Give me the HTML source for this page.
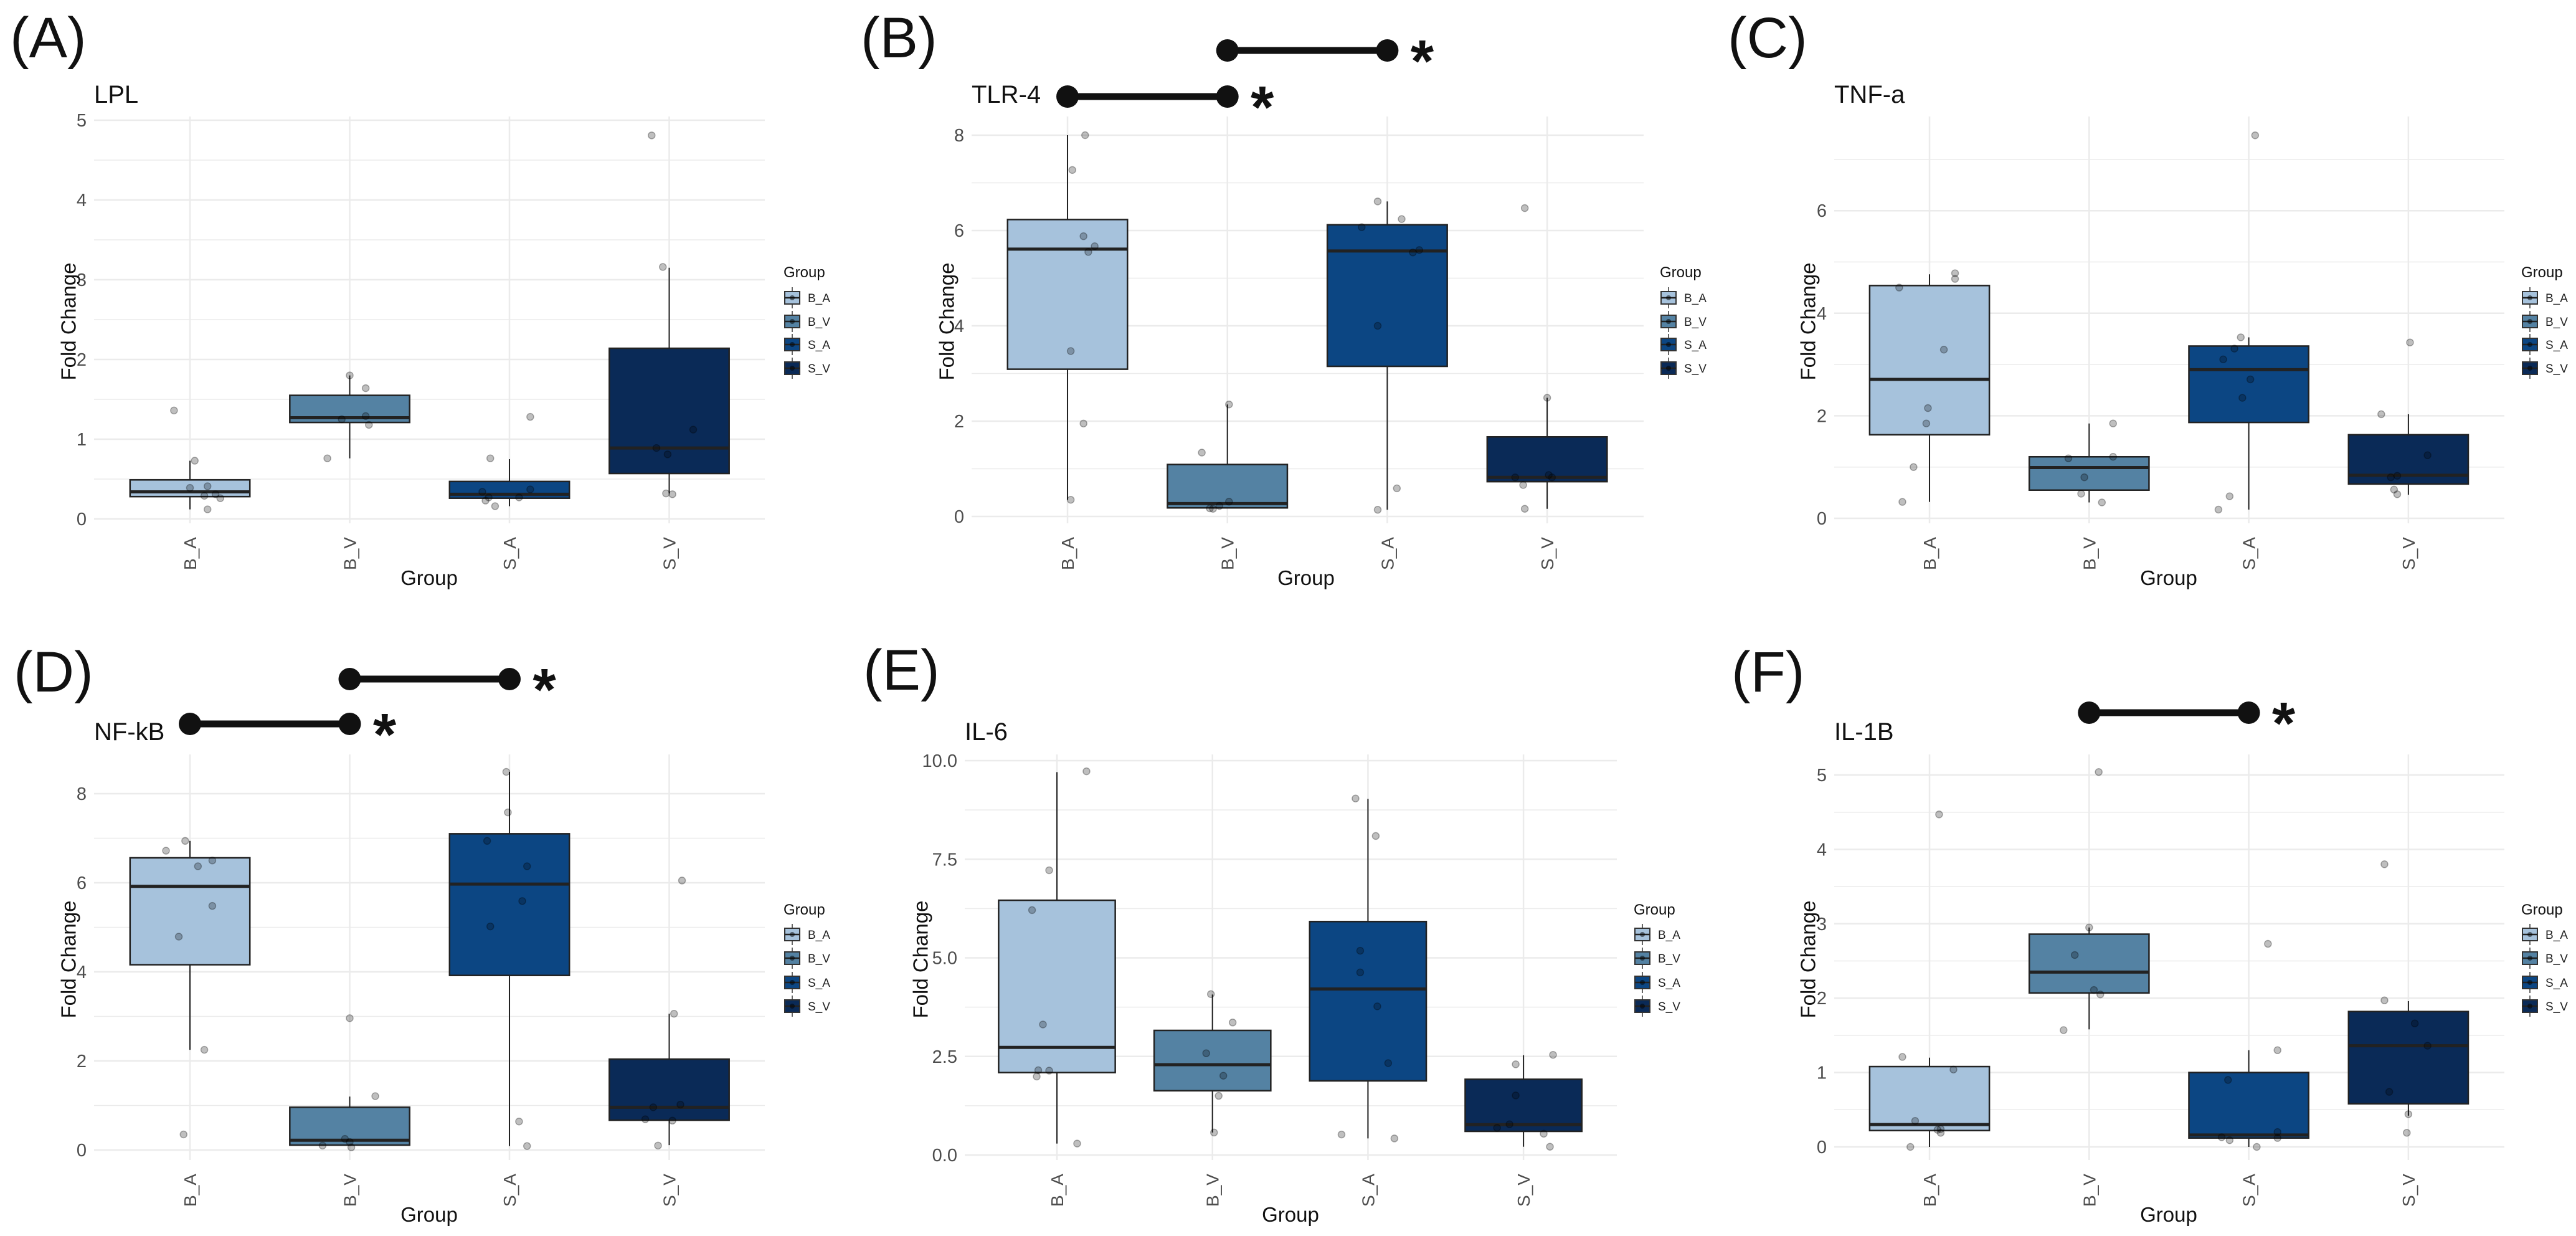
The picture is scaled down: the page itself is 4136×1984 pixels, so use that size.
<!DOCTYPE html>
<html><head><meta charset="utf-8">
<style>
html,body{margin:0;padding:0;background:#fff;}
svg{display:block;}
.narrow{font-family:"Liberation Sans Narrow","Liberation Sans",sans-serif;}
.sans{font-family:"Liberation Sans",sans-serif;}
</style></head>
<body>
<svg id="fig" width="4136" height="1984" viewBox="0 0 4136 1984" xmlns="http://www.w3.org/2000/svg"></svg>
<script>
// ---------- data ----------
const categories = ["B_A","B_V","S_A","S_V"];
const colors = ["#a6c2dc","#5482a3","#0c4683","#0a2a57"];

// box stats per group: [lowerWhisker, q1, median, q3, upperWhisker]
const lplBox = [[0.12,0.28,0.34,0.49,0.73],[0.76,1.21,1.27,1.55,1.80],[0.16,0.26,0.31,0.47,0.75],[0.32,0.57,0.89,2.14,3.15]];
const lplPoints = [[1.36,0.73,0.39,0.41,0.29,0.31,0.26,0.12],[0.76,1.80,1.64,1.25,1.29,1.18],[0.76,1.28,0.34,0.37,0.27,0.23,0.27,0.16],[4.81,3.16,0.89,0.81,1.12,0.32,0.31]];
const lplJitter = [[-0.10,0.03,0,0.11,0.09,0.16,0.19,0.11],[-0.14,0,0.10,-0.05,0.10,0.12],[-0.12,0.13,-0.17,0.13,-0.13,-0.15,0.06,-0.09],[-0.11,-0.04,-0.08,-0.01,0.15,-0.02,0.02]];

const tlrBox = [[0.35,3.09,5.61,6.23,8.0],[0.18,0.18,0.27,1.09,2.35],[0.14,3.15,5.57,6.12,6.61],[0.16,0.73,0.82,1.67,2.49]];
const tlrPoints = [[8.0,7.27,5.88,5.67,5.55,3.47,1.95,0.35],[2.35,1.34,0.31,0.22,0.17,0.16],[6.61,6.24,6.07,5.59,5.54,4.0,0.59,0.14],[6.47,2.49,0.82,0.87,0.82,0.66,0.16]];
const tlrJitter = [[0.11,0.03,0.10,0.17,0.13,0.02,0.10,0.02],[0.01,-0.16,0.01,-0.05,-0.11,-0.09],[-0.06,0.09,-0.16,0.20,0.16,-0.06,0.06,-0.06],[-0.14,0,-0.20,0.01,0.03,-0.15,-0.14]];

const tnfBox = [[0.32,1.63,2.71,4.54,4.76],[0.31,0.55,0.99,1.20,1.85],[0.17,1.87,2.90,3.36,3.53],[0.46,0.67,0.84,1.63,2.03]];
const tnfPoints = [[4.78,4.67,4.50,3.29,2.15,1.85,1.0,0.32],[1.85,1.17,1.20,0.80,0.48,0.31],[7.47,3.53,3.31,3.10,2.71,2.35,0.43,0.17],[3.43,2.03,1.23,0.83,0.80,0.56,0.47]];
const tnfJitter = [[0.16,0.16,-0.19,0.09,-0.01,-0.02,-0.10,-0.17],[0.15,-0.13,0.15,-0.03,-0.05,0.08],[0.04,-0.05,-0.09,-0.16,0.01,-0.04,-0.12,-0.19],[0.01,-0.17,0.12,-0.07,-0.11,-0.09,-0.07]];

const nfkbBox = [[2.25,4.16,5.92,6.56,6.94],[0.11,0.11,0.22,0.96,1.20],[0.09,3.92,5.97,7.10,8.49],[0.11,0.67,0.96,2.04,3.06]];
const nfkbPoints = [[6.94,6.72,6.50,6.37,5.48,4.79,2.25,0.35],[2.96,1.21,0.25,0.18,0.10,0.06],[8.49,7.58,6.94,6.37,5.59,5.02,0.64,0.09],[6.05,3.06,1.02,0.96,0.69,0.66,0.10]];
const nfkbJitter = [[-0.03,-0.15,0.14,0.05,0.14,-0.07,0.09,-0.04],[0,0.16,-0.03,0,-0.17,0.01],[-0.02,-0.01,-0.14,0.11,0.08,-0.12,0.06,0.11],[0.08,0.03,0.07,-0.10,-0.15,0.02,-0.07]];

const il6Box = [[0.29,2.09,2.73,6.46,9.71],[0.57,1.63,2.29,3.16,4.07],[0.42,1.88,4.21,5.92,9.03],[0.21,0.60,0.77,1.92,2.53]];
const il6Points = [[9.73,7.22,6.21,3.31,2.15,2.14,1.99,0.29],[4.08,3.36,2.58,2.01,1.50,0.57],[9.04,8.09,5.18,4.63,3.77,2.33,0.52,0.42],[2.54,2.30,1.51,0.78,0.69,0.54,0.21]];
const il6Jitter = [[0.19,-0.05,-0.16,-0.09,-0.12,-0.05,-0.13,0.13],[-0.01,0.13,-0.04,0.07,0.04,0.01],[-0.08,0.05,-0.05,-0.05,0.06,0.13,-0.17,0.17],[0.19,-0.05,-0.05,-0.09,-0.17,0.13,0.17]];

const il1bBox = [[0,0.22,0.30,1.08,1.20],[1.58,2.07,2.35,2.86,2.95],[0,0.12,0.16,1.00,1.30],[0.42,0.58,1.36,1.82,1.96]];
const il1bPoints = [[4.47,1.21,1.04,0.35,0.23,0.24,0.19,0.0],[5.04,2.95,2.58,2.11,2.05,1.57],[2.73,1.30,0.90,0.20,0.13,0.12,0.09,0.0],[3.80,1.97,1.66,1.36,0.74,0.44,0.19]];
const il1bJitter = [[0.06,-0.17,0.15,-0.09,0.05,0.07,0.07,-0.12],[0.06,0,-0.09,0.03,0.07,-0.16],[0.12,0.18,-0.13,0.18,-0.17,0.18,-0.12,0.05],[-0.15,-0.15,0.04,0.12,-0.12,0,-0.01]];

const lplTicks = [0,1,2,3,4,5];
const lplMinor = [0.5,1.5,2.5,3.5,4.5];
const tlrTicks = [0,2,4,6,8];
const tlrMinor = [1,3,5,7];
const tnfTicks = [0,2,4,6];
const tnfMinor = [1,3,5,7];
const nfkbTicks = [0,2,4,6,8];
const nfkbMinor = [1,3,5,7];
const il6Ticks = [0,2.5,5,7.5,10];
const il6TickLabels = ["0.0","2.5","5.0","7.5","10.0"];
const il6Minor = [1.25,3.75,6.25,8.75];
const il1bTicks = [0,1,2,3,4,5];
const il1bMinor = [0.5,1.5,2.5,3.5,4.5];

// significance comparisons: [fromGroupIndex, toGroupIndex]
const tlrSig = [[1,2],[0,1]];
const nfkbSig = [[1,2],[0,1]];
const il1bSig = [[1,2]];

// ---------- layout ----------
const NS = "http://www.w3.org/2000/svg";
const svg = document.getElementById("fig");
function mk(tag, attrs, parent, text){
  const e = document.createElementNS(NS, tag);
  for (const k in attrs) e.setAttribute(k, attrs[k]);
  if (text !== undefined) e.textContent = text;
  (parent||svg).appendChild(e);
  return e;
}

const panels = [
 {key:"a",letter:"(A)",title:"LPL",box:lplBox,pts:lplPoints,jit:lplJitter,ticks:lplTicks,minor:lplMinor,labels:null,sig:[],
  lx:16,ly:92,tx:151,ty:165,y0:833,ppu:128,xc0:305,step:256.5,pl:151,pr:1228,gt:187,gb:840,ytx:113,ytY:516,xtY:862,xgx:689,xgy:939,legX:1260,legY:445,legRows:[478,516,553,591],sigY:[]},
 {key:"b",letter:"(B)",title:"TLR-4",box:tlrBox,pts:tlrPoints,jit:tlrJitter,ticks:tlrTicks,minor:tlrMinor,labels:null,sig:tlrSig,
  lx:1382,ly:92,tx:1560,ty:165,y0:829,ppu:76.5,xc0:1714,step:256.7,pl:1560,pr:2639,gt:187,gb:840,ytx:1523,ytY:516,xtY:862,xgx:2097,xgy:939,legX:2667,legY:445,legRows:[478,516,553,591],sigY:[81,155]},
 {key:"c",letter:"(C)",title:"TNF-a",box:tnfBox,pts:tnfPoints,jit:tnfJitter,ticks:tnfTicks,minor:tnfMinor,labels:null,sig:[],
  lx:2774,ly:92,tx:2945,ty:165,y0:832,ppu:82.3,xc0:3098,step:256.3,pl:2945,pr:4021,gt:187,gb:840,ytx:2906,ytY:516,xtY:862,xgx:3482,xgy:939,legX:4050,legY:445,legRows:[478,516,553,591],sigY:[]},
 {key:"d",letter:"(D)",title:"NF-kB",box:nfkbBox,pts:nfkbPoints,jit:nfkbJitter,ticks:nfkbTicks,minor:nfkbMinor,labels:null,sig:nfkbSig,
  lx:22,ly:1110,tx:151,ty:1188,y0:1846,ppu:71.5,xc0:305,step:256.5,pl:151,pr:1228,gt:1211,gb:1862,ytx:113,ytY:1540,xtY:1884,xgx:689,xgy:1961,legX:1260,legY:1468,legRows:[1500,1538,1577,1615],sigY:[1090,1162]},
 {key:"e",letter:"(E)",title:"IL-6",box:il6Box,pts:il6Points,jit:il6Jitter,ticks:il6Ticks,minor:il6Minor,labels:il6TickLabels,sig:[],
  lx:1386,ly:1107,tx:1549,ty:1188,y0:1854,ppu:63.3,xc0:1697,step:249.7,pl:1549,pr:2596,gt:1211,gb:1862,ytx:1481,ytY:1540,xtY:1884,xgx:2072,xgy:1961,legX:2625,legY:1468,legRows:[1500,1538,1577,1615],sigY:[]},
 {key:"f",letter:"(F)",title:"IL-1B",box:il1bBox,pts:il1bPoints,jit:il1bJitter,ticks:il1bTicks,minor:il1bMinor,labels:null,sig:il1bSig,
  lx:2780,ly:1110,tx:2945,ty:1188,y0:1841,ppu:119.4,xc0:3098,step:256.3,pl:2945,pr:4021,gt:1211,gb:1862,ytx:2906,ytY:1540,xtY:1884,xgx:3482,xgy:1961,legX:4050,legY:1468,legRows:[1500,1538,1577,1615],sigY:[1144]}
];

panels.forEach(P=>{
  const g = mk("g",{});
  
  
  const Y = v => P.y0 - v*P.ppu;
  const X = i => P.xc0 + i*P.step;

  const lt = mk("text",{x:P.lx,y:P.ly,"font-size":92,fill:"#111",class:"sans"},g,P.letter);
  
  

  const tt = mk("text",{x:P.tx,y:P.ty,"font-size":40,fill:"#111",class:"narrow"},g,P.title);
  
  

  // grid
  const grid = mk("g",{stroke:"#ebebeb"},g);
  
  
  P.minor.forEach(v=>{ const y=Y(v); if(y>=P.gt && y<=P.gb) mk("line",{x1:P.pl,x2:P.pr,y1:y,y2:y,"stroke-width":1.5},grid); });
  P.ticks.forEach(v=>{ mk("line",{x1:P.pl,x2:P.pr,y1:Y(v),y2:Y(v),"stroke-width":2.5},grid); });
  categories.forEach((c,i)=>{ mk("line",{x1:X(i),x2:X(i),y1:P.gt,y2:P.gb,"stroke-width":2.5},grid); });

  // y ticks
  P.ticks.forEach((v,k)=>{
    const t = mk("text",{x:P.pl-12,y:Y(v)+10,"text-anchor":"end","font-size":29,fill:"#4d4d4d",class:"narrow"},g,P.labels?P.labels[k]:String(v));
    
    
  });
  // y title
  const yt = mk("text",{x:P.ytx,y:P.ytY,transform:`rotate(-90 ${P.ytx} ${P.ytY})`,"text-anchor":"middle","font-size":33,fill:"#111",class:"sans","dominant-baseline":"middle"},g,"Fold Change");
  
  
  // x ticks
  categories.forEach((c,i)=>{
    const x = X(i)+10, y = P.xtY;
    const t = mk("text",{x:x,y:y,transform:`rotate(-90 ${x} ${y})`,"text-anchor":"end","font-size":28,fill:"#4d4d4d",class:"sans"},g,c);
    
    
  });
  const xg = mk("text",{x:P.xgx,y:P.xgy,"text-anchor":"middle","font-size":33,fill:"#111",class:"narrow"},g,"Group");
  
  

  // boxes
  const hw = 0.375*P.step;
  P.box.forEach((b,i)=>{
    const bg = mk("g",{},g);
    
    
    const x = X(i);
    mk("line",{x1:x,x2:x,y1:Y(b[0]),y2:Y(b[1]),stroke:"#222","stroke-width":2},bg);
    mk("line",{x1:x,x2:x,y1:Y(b[3]),y2:Y(b[4]),stroke:"#222","stroke-width":2},bg);
    mk("rect",{x:x-hw,y:Y(b[3]),width:2*hw,height:Y(b[1])-Y(b[3]),fill:colors[i],stroke:"#222","stroke-width":2.5},bg);
    mk("line",{x1:x-hw,x2:x+hw,y1:Y(b[2]),y2:Y(b[2]),stroke:"#222","stroke-width":5},bg);
  });
  // points
  P.pts.forEach((arr,i)=>{
    arr.forEach((v,k)=>{
      const c = mk("circle",{cx:X(i)+P.jit[i][k]*P.step,cy:Y(v),r:5.5,fill:"#000","fill-opacity":0.25,stroke:"#000","stroke-opacity":0.3,"stroke-width":1.5},g);
      
      
    });
  });

  // significance bars
  P.sig.forEach((s,k)=>{
    const sg = mk("g",{},g);
    
    
    const y = P.sigY[k], x1 = X(s[0]), x2 = X(s[1]);
    mk("line",{x1:x1,x2:x2,y1:y,y2:y,stroke:"#111","stroke-width":11},sg);
    mk("circle",{cx:x1,cy:y,r:18,fill:"#111"},sg);
    mk("circle",{cx:x2,cy:y,r:18,fill:"#111"},sg);
    mk("text",{x:x2+56,y:y+50,"text-anchor":"middle","font-size":96,"font-weight":"bold",fill:"#111",class:"sans"},sg,"*");
  });

  // legend
  const lg = mk("g",{},g);
  
  
  mk("text",{x:P.legX-2,y:P.legY,"font-size":24,fill:"#111",class:"narrow"},lg,"Group");
  categories.forEach((c,i)=>{
    const e = mk("g",{},lg);
    
    
    const cy = P.legRows[i], cx = P.legX+12;
    mk("line",{x1:cx,x2:cx,y1:cy-17,y2:cy+17,stroke:"#333","stroke-width":1.5},e);
    mk("rect",{x:P.legX,y:cy-10,width:24,height:20,fill:colors[i],stroke:"#333","stroke-width":2},e);
    mk("line",{x1:P.legX,x2:P.legX+24,y1:cy,y2:cy,stroke:"#222","stroke-width":2.5},e);
    mk("circle",{cx:cx,cy:cy,r:4,fill:"#000","fill-opacity":0.5},e);
    mk("text",{x:P.legX+37,y:cy+7,"font-size":19,fill:"#222",class:"narrow"},e,c);
  });
});
</script>
</body></html>
